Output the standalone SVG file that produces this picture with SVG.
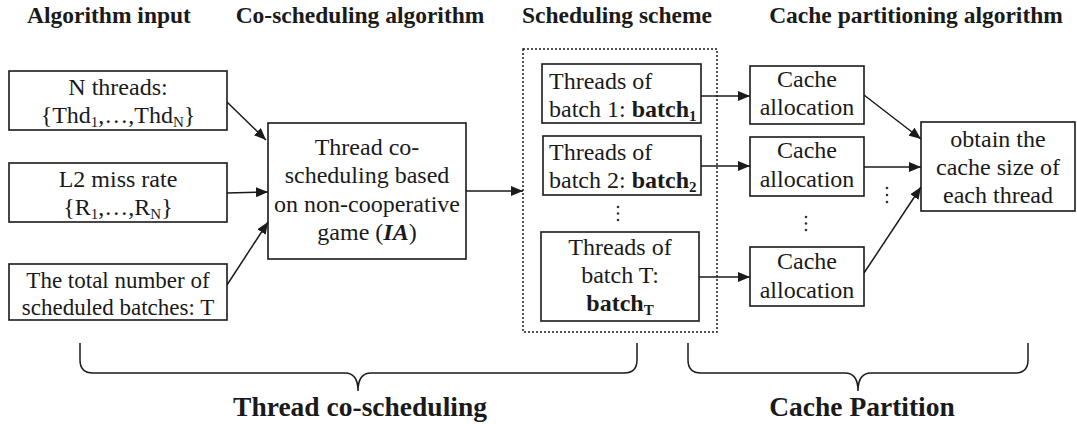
<svg xmlns="http://www.w3.org/2000/svg" width="1077" height="424" viewBox="0 0 1077 424">
<style>
.t{font-family:"Liberation Serif","Times New Roman",serif;fill:#1a1a1a}
.h{font-size:23.5px;font-weight:bold}
.b{font-size:24px}
.s{font-size:23px}
.c{text-anchor:middle}
.big{font-size:27.5px;font-weight:bold}
.bx{fill:#fff;stroke:#1a1a1a;stroke-width:1.6}
.ln{stroke:#1a1a1a;stroke-width:1.5;fill:none}
.dot{fill:#333}
.bold{font-weight:bold}
</style>
<defs>
<marker id="ah" markerWidth="12" markerHeight="10" refX="12" refY="5" orient="auto" markerUnits="userSpaceOnUse">
<path d="M0,0 L12,5 L0,10 Z" fill="#1a1a1a"/>
</marker>
</defs>
<rect width="1077" height="424" fill="#fff"/>

<g id="titles" class="t h">
<text x="109" y="23" class="c">Algorithm input</text>
<text x="360" y="23" class="c">Co-scheduling algorithm</text>
<text x="617" y="23" class="c">Scheduling scheme</text>
<text x="916" y="23" class="c">Cache partitioning algorithm</text>
</g>

<g id="scheme-frame">
<rect x="523" y="49" width="194" height="283" fill="none" stroke="#1a1a1a" stroke-width="1.5" stroke-dasharray="2,2"/>
</g>

<g id="connectors">
<line class="ln" x1="227" y1="102" x2="266" y2="140" marker-end="url(#ah)"/>
<line class="ln" x1="227" y1="193" x2="268" y2="192" marker-end="url(#ah)"/>
<line class="ln" x1="227" y1="285" x2="268" y2="222" marker-end="url(#ah)"/>
<line class="ln" x1="466" y1="191" x2="523" y2="191" marker-end="url(#ah)"/>
<line class="ln" x1="701" y1="96" x2="750" y2="96" marker-end="url(#ah)"/>
<line class="ln" x1="701" y1="166" x2="750" y2="166" marker-end="url(#ah)"/>
<line class="ln" x1="699" y1="277" x2="750" y2="277" marker-end="url(#ah)"/>
<line class="ln" x1="864" y1="95" x2="921" y2="139" marker-end="url(#ah)"/>
<line class="ln" x1="864" y1="167" x2="921" y2="167" marker-end="url(#ah)"/>
<line class="ln" x1="864" y1="273" x2="921" y2="187" marker-end="url(#ah)"/>
</g>

<g id="n-threads">
<rect class="bx" x="9" y="71" width="218" height="59"/>
<text class="t b c" x="118" y="95">N threads:</text>
<text class="t b c" x="118" y="123">{Thd<tspan font-size="15" dy="4">1</tspan><tspan dy="-4">,…,Thd</tspan><tspan font-size="15" dy="4">N</tspan><tspan dy="-4">}</tspan></text>
</g>

<g id="miss-rate">
<rect class="bx" x="9" y="163" width="218" height="59"/>
<text class="t b c" x="118" y="187">L2 miss rate</text>
<text class="t b c" x="118" y="215">{R<tspan font-size="15" dy="4">1</tspan><tspan dy="-4">,…,R</tspan><tspan font-size="15" dy="4">N</tspan><tspan dy="-4">}</tspan></text>
</g>

<g id="batches-count">
<rect class="bx" x="9" y="264" width="218" height="56"/>
<text class="t s c" x="118" y="288">The total number of</text>
<text class="t s c" x="118" y="314.5">scheduled batches: T</text>
</g>

<g id="co-scheduling">
<rect class="bx" x="268" y="123" width="198" height="136"/>
<text class="t b c" x="367" y="155">Thread co-</text>
<text class="t b c" x="367" y="183">scheduling based</text>
<text class="t b c" x="367" y="212">on non-cooperative</text>
<text class="t b c" x="367" y="240">game (<tspan font-weight="bold" font-style="italic">IA</tspan>)</text>
</g>

<g id="batch-1">
<rect class="bx" x="542" y="64" width="159" height="59"/>
<text class="t b" x="549" y="89">Threads of</text>
<text class="t b" x="549" y="117">batch 1: <tspan class="bold">batch</tspan><tspan class="bold" font-size="15" dy="4">1</tspan></text>
</g>

<g id="batch-2">
<rect class="bx" x="543" y="136" width="158" height="59"/>
<text class="t b" x="549" y="160">Threads of</text>
<text class="t b" x="549" y="188">batch 2: <tspan class="bold">batch</tspan><tspan class="bold" font-size="15" dy="4">2</tspan></text>
</g>

<g id="batch-dots" class="dot">
<circle cx="618" cy="207" r="1.3"/>
<circle cx="618" cy="213.5" r="1.3"/>
<circle cx="618" cy="220" r="1.3"/>
</g>

<g id="batch-T">
<rect class="bx" x="541" y="232" width="158" height="89"/>
<text class="t b c" x="620" y="255">Threads of</text>
<text class="t b c" x="620" y="283">batch T:</text>
<text class="t b c bold" x="620" y="311">batch<tspan font-size="15" dy="4">T</tspan></text>
</g>

<g id="cache-1">
<rect class="bx" x="750" y="66" width="114" height="58"/>
<text class="t b c" x="807" y="87">Cache</text>
<text class="t b c" x="807" y="115">allocation</text>
</g>

<g id="cache-2">
<rect class="bx" x="750" y="137" width="114" height="59"/>
<text class="t b c" x="807" y="158">Cache</text>
<text class="t b c" x="807" y="187">allocation</text>
</g>

<g id="cache-dots" class="dot">
<circle cx="806" cy="217" r="1.3"/>
<circle cx="806" cy="223.5" r="1.3"/>
<circle cx="806" cy="230" r="1.3"/>
<circle cx="887" cy="188" r="1.3"/>
<circle cx="887" cy="195" r="1.3"/>
<circle cx="887" cy="202" r="1.3"/>
</g>

<g id="cache-3">
<rect class="bx" x="750" y="247" width="114" height="59"/>
<text class="t b c" x="807" y="269">Cache</text>
<text class="t b c" x="807" y="298">allocation</text>
</g>

<g id="cache-size">
<rect class="bx" x="921" y="122" width="154" height="89"/>
<text class="t b c" x="998" y="147">obtain the</text>
<text class="t b c" x="998" y="175">cache size of</text>
<text class="t b c" x="998" y="203">each thread</text>
</g>

<g id="braces">
<path class="ln" d="M80,343 V360 Q80,373 93,373 H345 Q358,373 358,391 Q358,373 371,373 H624 Q637,373 637,360 V343"/>
<path class="ln" d="M688,343 V360 Q688,373 701,373 H845 Q858,373 858,391 Q858,373 871,373 H1015 Q1028,373 1028,360 V343"/>
</g>

<g id="labels" class="t big">
<text x="360" y="416" class="c">Thread co-scheduling</text>
<text x="862" y="416" class="c">Cache Partition</text>
</g>
</svg>
